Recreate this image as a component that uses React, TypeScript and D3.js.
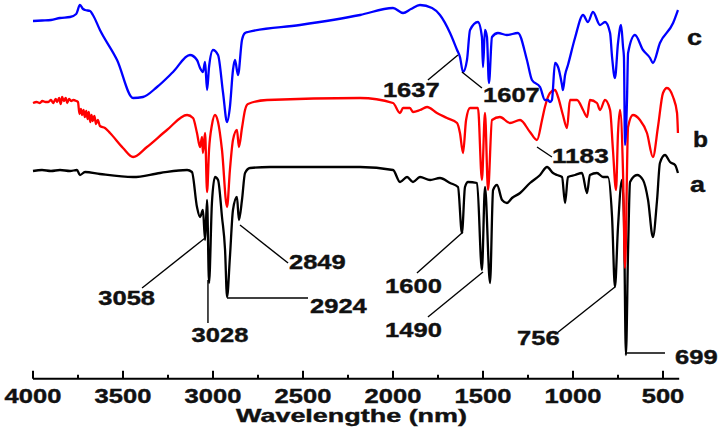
import React from "react";
import * as d3 from "d3";

// x: wavenumber (cm-1, labelled as in source), y: transmittance (a.u., offset per trace)
const majorTicks = [4000, 3500, 3000, 2500, 2000, 1500, 1000, 500];
const minorTicks = [3750, 3250, 2750, 2250, 1750, 1250, 750];
const xTitle = "Wavelengthe (nm)";

const spectrumA: [number, number][] = [
  [4000, 20.9], [3950, 21.0], [3900, 20.9], [3850, 21.0], [3794, 20.9], [3756, 21.0], [3739, 20.5], [3711, 20.8],
  [3628, 20.6], [3444, 20.3], [3294, 20.7], [3144, 21.0], [3117, 20.8], [3089, 17.3], [3072, 16.3],
  [3056, 17.0], [3044, 14.0], [3033, 18.0], [3022, 9.7], [3006, 17.7], [2989, 20.3], [2972, 20.0],
  [2950, 16.3], [2933, 13.0], [2922, 8.3], [2906, 12.3], [2889, 17.0], [2867, 18.3], [2856, 16.0],
  [2839, 18.0], [2822, 20.7], [2794, 21.2], [2683, 21.3], [2400, 21.3], [2183, 21.3], [2000, 21.0],
  [1961, 19.8], [1922, 20.3], [1889, 19.8], [1850, 20.3], [1794, 20.0], [1739, 20.2], [1683, 19.7],
  [1639, 19.3], [1617, 14.7], [1600, 19.3], [1583, 19.8], [1533, 19.7], [1506, 11.0], [1489, 19.3],
  [1461, 9.7], [1444, 19.0], [1422, 19.5], [1394, 18.0], [1367, 17.7], [1339, 18.2], [1294, 18.7],
  [1239, 19.7], [1183, 20.5], [1144, 21.3], [1111, 20.7], [1089, 20.5], [1061, 20.3], [1044, 17.7],
  [1028, 20.3], [989, 20.5], [950, 20.7], [922, 18.7], [906, 20.5], [867, 20.7], [833, 20.3],
  [806, 20.3], [783, 16.3], [767, 9.3], [750, 15.3], [728, 20.0], [717, 16.3], [706, 2.5], [694, 13.0],
  [683, 19.8], [644, 20.5], [611, 20.0], [583, 18.0], [556, 14.3], [533, 18.0], [517, 21.7],
  [489, 22.5], [461, 21.8], [433, 21.5], [417, 20.7],
];

const spectrumB: [number, number][] = [
  [4000, 27.7], [3980, 27.8], [3962, 27.7], [3948, 27.9], [3930, 27.8], [3915, 27.8], [3900, 28.0],
  [3888, 27.7], [3874, 28.1], [3866, 27.8], [3855, 28.2], [3846, 27.6], [3838, 28.3], [3829, 27.9],
  [3818, 28.2], [3810, 27.7], [3800, 28.1], [3788, 27.9], [3776, 28.0], [3760, 27.9], [3750, 27.8],
  [3742, 26.6], [3734, 27.1], [3727, 26.5], [3719, 27.0], [3712, 26.3], [3704, 26.9], [3697, 26.1],
  [3690, 26.8], [3682, 25.8], [3675, 26.5], [3668, 25.9], [3659, 26.4], [3650, 25.6], [3640, 26.0],
  [3628, 25.4], [3600, 25.2], [3572, 24.7], [3500, 23.2], [3444, 22.3], [3367, 23.3], [3256, 25.0],
  [3144, 26.5], [3111, 26.2], [3089, 24.7], [3072, 23.3], [3061, 24.3], [3056, 22.7], [3044, 24.7],
  [3033, 18.8], [3022, 23.0], [3006, 25.5], [2989, 26.5], [2972, 25.8], [2950, 23.0], [2922, 17.3],
  [2906, 21.0], [2889, 24.0], [2867, 25.0], [2856, 23.3], [2839, 25.2], [2822, 27.0], [2806, 27.6],
  [2700, 28.0], [2183, 28.2], [2000, 27.7], [1961, 26.7], [1944, 27.2], [1906, 27.2], [1889, 26.8],
  [1850, 27.0], [1811, 27.3], [1756, 26.7], [1700, 26.2], [1644, 25.7], [1628, 24.7], [1611, 22.7],
  [1594, 26.0], [1572, 27.2], [1528, 27.2], [1506, 20.0], [1489, 26.7], [1472, 19.0], [1450, 26.0],
  [1406, 26.3], [1350, 25.7], [1294, 26.0], [1239, 24.8], [1200, 24.0], [1172, 26.0], [1156, 27.3],
  [1128, 28.7], [1100, 29.0], [1083, 28.3], [1056, 26.5], [1033, 25.2], [1017, 28.0], [978, 28.0],
  [944, 27.0], [922, 26.3], [906, 28.0], [867, 27.7], [850, 27.0], [822, 28.0], [794, 27.0],
  [778, 23.0], [761, 19.0], [750, 24.7], [739, 27.0], [722, 20.7], [711, 11.2], [694, 25.3],
  [667, 26.5], [628, 26.0], [589, 24.7], [556, 22.3], [528, 25.3], [500, 28.7], [478, 29.2],
  [444, 28.3], [422, 26.7], [417, 24.7],
];

const spectrumC: [number, number][] = [
  [4000, 35.9], [3950, 35.95], [3900, 36.0], [3850, 36.2], [3794, 36.3], [3760, 36.6], [3739, 37.5],
  [3722, 37.1], [3711, 37.0], [3683, 36.9], [3667, 36.5], [3628, 35.0], [3533, 32.0], [3444, 28.2],
  [3389, 28.3], [3311, 29.3], [3222, 30.8], [3128, 32.5], [3089, 32.0], [3072, 31.2], [3056, 30.8],
  [3044, 31.8], [3033, 29.0], [3022, 31.3], [3000, 33.0], [2972, 32.5], [2944, 28.7], [2922, 25.8],
  [2906, 27.3], [2889, 31.0], [2878, 32.0], [2861, 30.5], [2839, 34.0], [2822, 34.7], [2806, 34.8],
  [2517, 35.5], [2183, 36.5], [2000, 37.2], [1944, 36.7], [1900, 37.1], [1850, 37.5], [1783, 37.2],
  [1739, 36.5], [1683, 34.7], [1644, 33.0], [1628, 32.3], [1611, 30.8], [1589, 32.0], [1572, 35.0],
  [1528, 35.8], [1506, 34.3], [1500, 31.3], [1489, 35.0], [1478, 34.3], [1467, 29.7], [1450, 34.3],
  [1417, 34.7], [1367, 34.5], [1306, 34.7], [1256, 32.0], [1228, 30.0], [1183, 29.3], [1156, 28.0],
  [1140, 28.0], [1128, 27.8], [1117, 28.0], [1100, 31.7], [1083, 31.3], [1061, 29.5], [1056, 29.0],
  [1044, 30.5], [1028, 31.5], [989, 34.2], [944, 36.5], [917, 35.8], [889, 36.8], [850, 35.5],
  [822, 35.8], [794, 34.7], [783, 32.3], [767, 30.2], [750, 33.7], [733, 35.5], [722, 33.3],
  [717, 32.3], [711, 23.5], [700, 28.0], [694, 32.7], [656, 34.5], [611, 33.0], [572, 32.2],
  [556, 31.7], [517, 33.7], [444, 35.7], [417, 37.0],
];

const seriesNames = ["a", "b", "c"];
const seriesData = [spectrumA, spectrumB, spectrumC];
const seriesColors = ["#000000", "#ff0000", "#0000ff"];
const seriesLabelPos: [number, number][] = [[350, 18.8], [333, 23.3], [367, 33.5]];

type Ann = { text: string; from: [number, number]; to: [number, number]; at: [number, number]; anchor: string };
const peakAnnotations: Ann[] = [
  { text: "3058", from: [3044, 14.2], to: [3394, 9.2], at: [3322, 7.5], anchor: "end" },
  { text: "3028", from: [3028, 10.0], to: [3028, 5.7], at: [2961, 3.8], anchor: "middle" },
  { text: "2924", from: [2922, 8.2], to: [2472, 8.2], at: [2461, 6.7], anchor: "start" },
  { text: "2849", from: [2850, 15.5], to: [2583, 11.7], at: [2578, 11.1], anchor: "start" },
  { text: "1600", from: [1611, 14.8], to: [1867, 10.7], at: [2044, 8.7], anchor: "start" },
  { text: "1490", from: [1500, 10.8], to: [1806, 6.3], at: [2044, 4.3], anchor: "start" },
  { text: "756", from: [767, 9.3], to: [1089, 4.7], at: [1311, 3.5], anchor: "start" },
  { text: "699", from: [706, 2.7], to: [489, 2.7], at: [433, 1.6], anchor: "start" },
  { text: "1637", from: [1639, 32.5], to: [1806, 30.0], at: [2056, 28.3], anchor: "start" },
  { text: "1607", from: [1617, 30.8], to: [1506, 29.2], at: [1500, 27.8], anchor: "start" },
  { text: "1183", from: [1200, 23.3], to: [1117, 22.3], at: [1117, 21.7], anchor: "start" },
];

const W = 720;
const H = 431;
const FONT = "'Liberation Sans', Arial, Helvetica, sans-serif";

export default function App() {
  const x = d3.scaleLinear().domain([4000, 410]).range([33, 679.2]);
  const y = d3.scaleLinear().domain([0, 38]).range([380, 0]);
  const axisY = 378.7;
  const line = d3
    .line<[number, number]>()
    .x((d) => x(d[0]))
    .y((d) => y(d[1]))
    .curve(d3.curveMonotoneX);
  const digitW = 14.2;

  return (
    <svg
      width={W}
      height={H}
      style={{ position: "absolute", left: 0, top: 0, background: "#fff" }}
      fontFamily={FONT}
      fontWeight="bold"
    >
      <rect width={W} height={H} fill="#fff" />
      {seriesData.map((d, i) => (
        <path key={seriesNames[i]} d={line(d) || ""} fill="none" stroke={seriesColors[i]} strokeWidth={2.3} strokeLinejoin="round" />
      ))}
      {peakAnnotations.map((a) => (
        <g key={a.text}>
          <line x1={x(a.from[0])} y1={y(a.from[1])} x2={x(a.to[0])} y2={y(a.to[1])} stroke="#000" strokeWidth={1.4} />
          <text
            x={x(a.at[0])}
            y={y(a.at[1])}
            fontSize={21}
            textAnchor={a.anchor as any}
            textLength={a.text.length * digitW}
            lengthAdjust="spacingAndGlyphs"
            fill="#111"
            stroke="#111"
            strokeWidth={0.4}
          >
            {a.text}
          </text>
        </g>
      ))}
      {seriesNames.map((n, i) => (
        <text
          key={"lab" + n}
          x={x(seriesLabelPos[i][0])}
          y={y(seriesLabelPos[i][1])}
          fontSize={22}
          textLength={15}
          lengthAdjust="spacingAndGlyphs"
          fill="#111"
          stroke="#111"
          strokeWidth={0.4}
        >
          {n}
        </text>
      ))}
      <line x1={x(4000)} x2={x(410)} y1={axisY} y2={axisY} stroke="#000" strokeWidth={2} />
      {majorTicks.map((t) => (
        <g key={"t" + t}>
          <line x1={x(t)} x2={x(t)} y1={axisY} y2={axisY - 8} stroke="#000" strokeWidth={2} />
          <text
            x={x(t)}
            y={403}
            fontSize={20}
            textAnchor="middle"
            textLength={String(t).length * digitW}
            lengthAdjust="spacingAndGlyphs"
            fill="#111"
            stroke="#111"
            strokeWidth={0.4}
          >
            {t}
          </text>
        </g>
      ))}
      {minorTicks.map((t) => (
        <line key={"m" + t} x1={x(t)} x2={x(t)} y1={axisY} y2={axisY - 4} stroke="#000" strokeWidth={2} />
      ))}
      <text
        x={236}
        y={422}
        fontSize={19}
        textLength={231}
        lengthAdjust="spacingAndGlyphs"
        fill="#111"
        stroke="#111"
        strokeWidth={0.4}
      >
        {xTitle}
      </text>
    </svg>
  );
}
